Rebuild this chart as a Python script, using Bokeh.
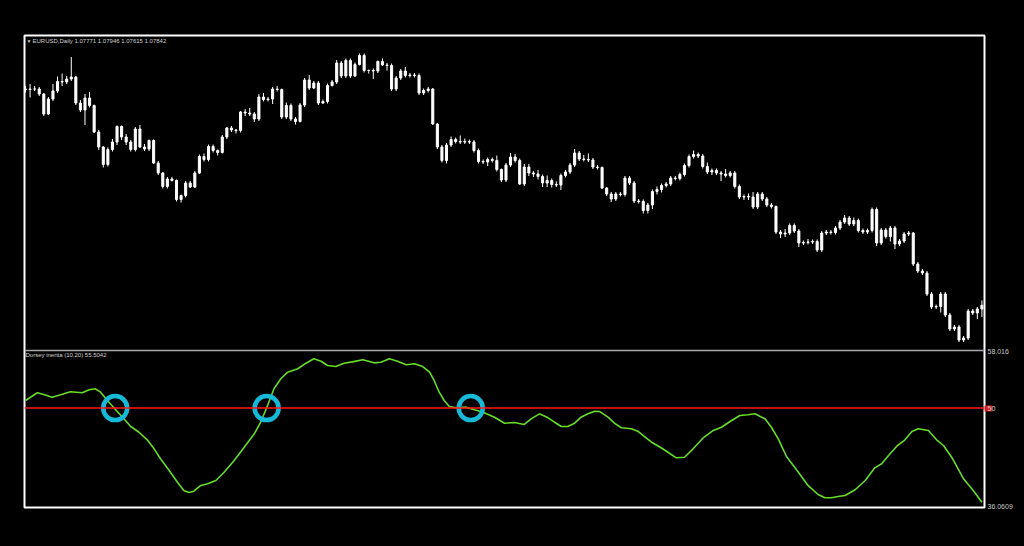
import numpy as np
from bokeh.plotting import figure
from bokeh.models import Range1d, LinearAxis, FixedTicker, Span, Label
from bokeh.embed import file_html
from bokeh.resources import INLINE

# ---------------- data ----------------
closes = [
    1.1216, 1.1217, 1.1217, 1.1207, 1.1167, 1.1197, 1.1213, 1.1232, 1.1231, 1.1237,
    1.1241, 1.1189, 1.1175, 1.1199, 1.1184, 1.1131, 1.1101, 1.1066, 1.1096, 1.1111,
    1.1142, 1.1121, 1.1111, 1.1096, 1.1137, 1.1101, 1.1097, 1.1114, 1.1069, 1.1049,
    1.1022, 1.1037, 1.1034, 1.0996, 1.1004, 1.1029, 1.1021, 1.1049, 1.1082, 1.1076,
    1.1102, 1.1094, 1.1090, 1.1121, 1.1139, 1.1135, 1.1134, 1.1171, 1.1169, 1.1167,
    1.1157, 1.1201, 1.1196, 1.1197, 1.1217, 1.1216, 1.1161, 1.1184, 1.1157, 1.1152,
    1.1185, 1.1235, 1.1219, 1.1229, 1.1189, 1.1192, 1.1224, 1.1231, 1.1269, 1.1243,
    1.1274, 1.1243, 1.1266, 1.1284, 1.1254, 1.1254, 1.1253, 1.1272, 1.1265, 1.1264,
    1.1217, 1.1239, 1.1253, 1.1244, 1.1245, 1.1244, 1.1209, 1.1214, 1.1217, 1.1147,
    1.1101, 1.1074, 1.1105, 1.1116, 1.1112, 1.1111, 1.1112, 1.1111, 1.1094, 1.1072,
    1.1071, 1.1076, 1.1074, 1.1056, 1.1035, 1.1065, 1.1081, 1.1074, 1.1027, 1.1061,
    1.1049, 1.1047, 1.1042, 1.1029, 1.1034, 1.1026, 1.1025, 1.1044, 1.1051, 1.1065,
    1.1089, 1.1077, 1.1076, 1.1075, 1.1061, 1.1060, 1.1019, 1.1007, 1.0997, 1.1007,
    1.1006, 1.1039, 1.1029, 1.0993, 1.0992, 1.0974, 1.0985, 1.1012, 1.1016, 1.1024,
    1.1027, 1.1039, 1.1038, 1.1046, 1.1064, 1.1082, 1.1086, 1.1083, 1.1062, 1.1051,
    1.1054, 1.1049, 1.1047, 1.1044, 1.1049, 1.1022, 1.1001, 1.1002, 1.1001, 1.0981,
    1.1007, 1.0997, 1.0985, 1.0982, 1.0931, 1.0927, 1.0929, 1.0944, 1.0933, 1.0909,
    1.0910, 1.0911, 1.0912, 1.0895, 1.0929, 1.0931, 1.0930, 1.0939, 1.0951, 1.0959,
    1.0947, 1.0954, 1.0934, 1.0931, 1.0934, 1.0976, 1.0909, 1.0935, 1.0922, 1.0939,
    1.0907, 1.0913, 1.0927, 1.0929, 1.0867, 1.0853, 1.0849, 1.0807, 1.0781, 1.0782,
    1.0807, 1.0765, 1.0737, 1.0741, 1.0715, 1.0719, 1.0773, 1.0769, 1.07771, 1.07842,
]
first_open = 1.1217

# upper / lower shadows in pips
wick_up = [
    6, 10, 6, 4, 2, 4, 14, 10, 16, 6,
    40, 2, 6, 8, 12, 2, 4, 2, 4, 6,
    2, 2, 6, 4, 4, 8, 6, 2, 2, 4,
    2, 4, 4, 2, 2, 4, 4, 4, 4, 6,
    4, 4, 2, 4, 2, 4, 2, 2, 6, 10,
    4, 6, 8, 4, 4, 6, 2, 6, 4, 4,
    4, 4, 10, 4, 4, 4, 4, 4, 6, 4,
    4, 4, 4, 4, 4, 2, 4, 2, 6, 4,
    4, 4, 4, 8, 4, 4, 4, 4, 4, 2,
    2, 4, 4, 6, 4, 12, 6, 4, 4, 4,
    4, 4, 4, 10, 2, 4, 8, 6, 4, 6,
    6, 4, 8, 4, 10, 4, 6, 4, 4, 4,
    8, 4, 8, 12, 4, 4, 2, 2, 4, 4,
    4, 4, 4, 4, 4, 4, 4, 4, 6, 4,
    4, 4, 4, 4, 4, 4, 8, 4, 4, 8,
    4, 4, 4, 10, 4, 4, 4, 4, 6, 10,
    4, 4, 4, 4, 2, 4, 8, 4, 4, 4,
    4, 6, 4, 4, 4, 4, 4, 4, 4, 6,
    4, 6, 4, 4, 4, 4, 4, 4, 4, 4,
    4, 4, 4, 4, 2, 4, 4, 4, 4, 4,
    4, 4, 4, 4, 4, 4, 4, 4, 4, 10,
]
wick_dn = [
    6, 16, 4, 4, 4, 2, 4, 4, 8, 4,
    4, 4, 4, 30, 4, 2, 6, 6, 4, 4,
    6, 6, 6, 4, 4, 2, 4, 4, 2, 4,
    4, 4, 2, 4, 6, 4, 2, 2, 2, 4,
    4, 4, 6, 2, 4, 4, 6, 4, 6, 4,
    6, 4, 4, 4, 10, 4, 4, 4, 4, 6,
    2, 4, 4, 2, 4, 2, 4, 2, 4, 4,
    4, 4, 2, 2, 4, 6, 16, 4, 2, 10,
    4, 4, 4, 4, 4, 4, 4, 4, 4, 2,
    4, 4, 6, 4, 4, 4, 4, 4, 4, 4,
    4, 8, 4, 4, 4, 4, 4, 4, 2, 4,
    6, 6, 6, 8, 8, 6, 4, 10, 4, 4,
    4, 4, 4, 4, 4, 4, 2, 4, 6, 4,
    4, 4, 4, 4, 4, 6, 6, 8, 6, 6,
    4, 4, 4, 4, 4, 4, 4, 4, 4, 4,
    6, 4, 14, 4, 4, 4, 4, 6, 6, 4,
    4, 4, 4, 4, 4, 8, 6, 4, 4, 8,
    4, 4, 4, 4, 4, 4, 4, 4, 4, 4,
    4, 4, 4, 4, 4, 4, 6, 4, 4, 10,
    10, 4, 4, 4, 4, 4, 4, 4, 4, 4,
    12, 4, 4, 4, 4, 4, 4, 4, 12, 16,
]

# Dorsey inertia line (bar position, value)
ind_bar = [
    0, 1.1, 2.6, 4.0, 5.8, 7.7, 9.8, 12.4, 13.9, 15.3,
    16.4, 17.9, 19.7, 21.5, 23.0, 24.8, 26.6, 28.1, 29.5, 31.4,
    33.2, 34.6, 35.7, 36.8, 38.3, 39.8, 41.6, 43.4, 45.6, 47.8,
    50.0, 51.4, 52.9, 54.3, 55.8, 57.3, 59.5, 61.3, 63.0, 64.6,
    66.0, 67.8, 69.6, 71.4, 73.7, 76.2, 77.7, 79.5, 81.3, 83.2,
    85.0, 86.8, 88.3, 89.3, 90.4, 91.5, 92.6, 94.1, 96.3, 98.1,
    100.0, 102.5, 104.7, 106.8, 109.0, 110.5, 112.3, 114.2, 115.6, 117.1,
    118.5, 120.0, 121.4, 122.9, 124.4, 125.5, 127.3, 128.7, 130.2, 132.4,
    133.8, 135.2, 136.8, 138.9, 140.4, 142.2, 144.0, 145.9, 148.1, 150.3,
    152.1, 154.3, 156.1, 157.9, 159.4, 161.6, 163.0, 164.5, 166.3, 168.9,
    171.0, 173.2, 174.7, 176.1, 177.6, 179.1, 181.3, 183.5, 185.6, 187.1,
    188.6, 190.4, 192.2, 193.7, 195.1, 197.3, 199.1, 200.6, 202.4, 205.0,
    207.1, 209.0,
]
ind_val = [
    51.08, 51.54, 52.17, 51.93, 51.54, 51.88, 52.31, 52.17, 52.59, 52.73,
    52.25, 51.08, 49.76, 48.48, 47.39, 46.58, 45.51, 44.23, 42.82, 41.16,
    39.50, 38.33, 38.05, 38.23, 39.04, 39.28, 39.74, 40.92, 42.58, 44.46,
    46.36, 48.00, 50.37, 52.73, 54.15, 55.09, 55.57, 56.36, 56.98, 56.64,
    56.03, 55.89, 56.36, 56.55, 56.84, 56.41, 56.50, 56.98, 56.64, 56.13,
    56.27, 55.89, 55.09, 53.91, 52.25, 51.08, 50.23, 50.04, 50.13, 49.76,
    49.42, 48.71, 47.86, 47.96, 47.68, 48.48, 49.19, 48.62, 48.00, 47.39,
    47.39, 47.86, 48.71, 49.19, 49.56, 49.51, 48.71, 47.86, 47.21, 47.07,
    46.73, 45.98, 45.17, 44.38, 43.75, 42.96, 43.04, 44.23, 45.79, 46.83,
    47.29, 48.24, 48.95, 49.05, 49.19, 48.48, 47.29, 45.65, 43.14, 40.92,
    39.04, 37.76, 37.29, 37.29, 37.48, 37.62, 38.43, 39.74, 41.54, 42.11,
    43.29, 44.60, 45.51, 46.68, 47.07, 46.83, 45.51, 44.70, 43.04, 39.98,
    38.33, 36.67,
]
level = 50
ind_max = 58.016
ind_min = 36.0609
cross_bar = [19.6, 52.7, 97.3]
title_text = "EURUSD,Daily  1.07771 1.07946 1.07615 1.07842"
ind_title = "Dorsey inertia (10,20) 55.5042"

# ---------------- derived ----------------
idx = np.arange(len(closes))
c = np.array(closes)
o = np.array([first_open] + closes[:-1])
body_top = np.maximum(o, c)
body_bot = np.minimum(o, c)
high = body_top + np.array(wick_up) * 1e-4
low = body_bot - np.array(wick_dn) * 1e-4

FONT = "Liberation Sans"
W, H = 1008, 530

p = figure(width=W, height=H, output_backend="svg", toolbar_location=None,
           x_range=Range1d(-0.22, 209.57), y_range=Range1d(1.0380, 1.1324),
           x_axis_location=None, y_axis_location=None,
           background_fill_color="black", border_fill_color="black",
           min_border_left=16, min_border_right=32, min_border_top=27, min_border_bottom=31,
           outline_line_color="white", outline_line_width=2)
p.grid.visible = False
p.extra_y_ranges = {"ind": Range1d(35.919, 102.776)}

# candles
p.segment(idx, high, idx, low, line_color="white", line_width=1)
p.vbar(x=idx, width=0.45, top=body_top, bottom=body_bot,
       fill_color="white", line_color="white", line_width=1)

# sub-window separator and level
p.add_layout(Span(location=58.158, dimension="width", y_range_name="ind",
                  line_color="#a8a8a8", line_width=1.5))
p.add_layout(Span(location=level, dimension="width", y_range_name="ind",
                  line_color="#ff1a1a", line_width=1.5))

# indicator
p.line(ind_bar, ind_val, y_range_name="ind", line_color="#66dc26", line_width=1.6)

# crossing circles
p.scatter(cross_bar, [level] * len(cross_bar), y_range_name="ind", marker="circle",
          size=24, fill_color=None, line_color="#17b9d9", line_width=4.5)

# right scale of indicator window (level marked by a red box = minor tick)
ax = LinearAxis(y_range_name="ind",
                ticker=FixedTicker(ticks=[ind_min, level, ind_max], minor_ticks=[level]),
                major_label_overrides={ind_min: f"{ind_min:g}", level: f"{level}",
                                       ind_max: f"{ind_max:g}"},
                axis_line_color=None, major_tick_line_color=None,
                minor_tick_line_color="#d42020", minor_tick_line_width=6,
                minor_tick_in=0, minor_tick_out=8,
                major_tick_in=0, major_tick_out=0, major_label_standoff=-5,
                major_label_text_color="#c8c8c8", major_label_text_font_size="7px",
                major_label_text_font=FONT)
p.add_layout(ax, "right")

# titles
p.add_layout(Label(x=-0.22, y=1.1324, x_offset=2, y_offset=-2, text="\u25BC",
                   text_baseline="top", text_font_size="5px", text_color="#d0d0d0",
                   text_font=FONT))
p.add_layout(Label(x=-0.22, y=1.1324, x_offset=8, y_offset=-2, text=title_text,
                   text_baseline="top", text_font_size="6px", text_color="#d0d0d0",
                   text_font=FONT))
p.add_layout(Label(x=-0.22, y=58.158, y_range_name="ind", x_offset=1, y_offset=-2,
                   text=ind_title, text_baseline="top", text_font_size="6px",
                   text_color="#d0d0d0", text_font=FONT))

html = file_html(p, INLINE)
html = html.replace("</head>",
                    "<style>html,body{background:#000;margin:0;}body{margin:8px;overflow:hidden;}</style></head>", 1)
open("out.html", "w").write(html)
